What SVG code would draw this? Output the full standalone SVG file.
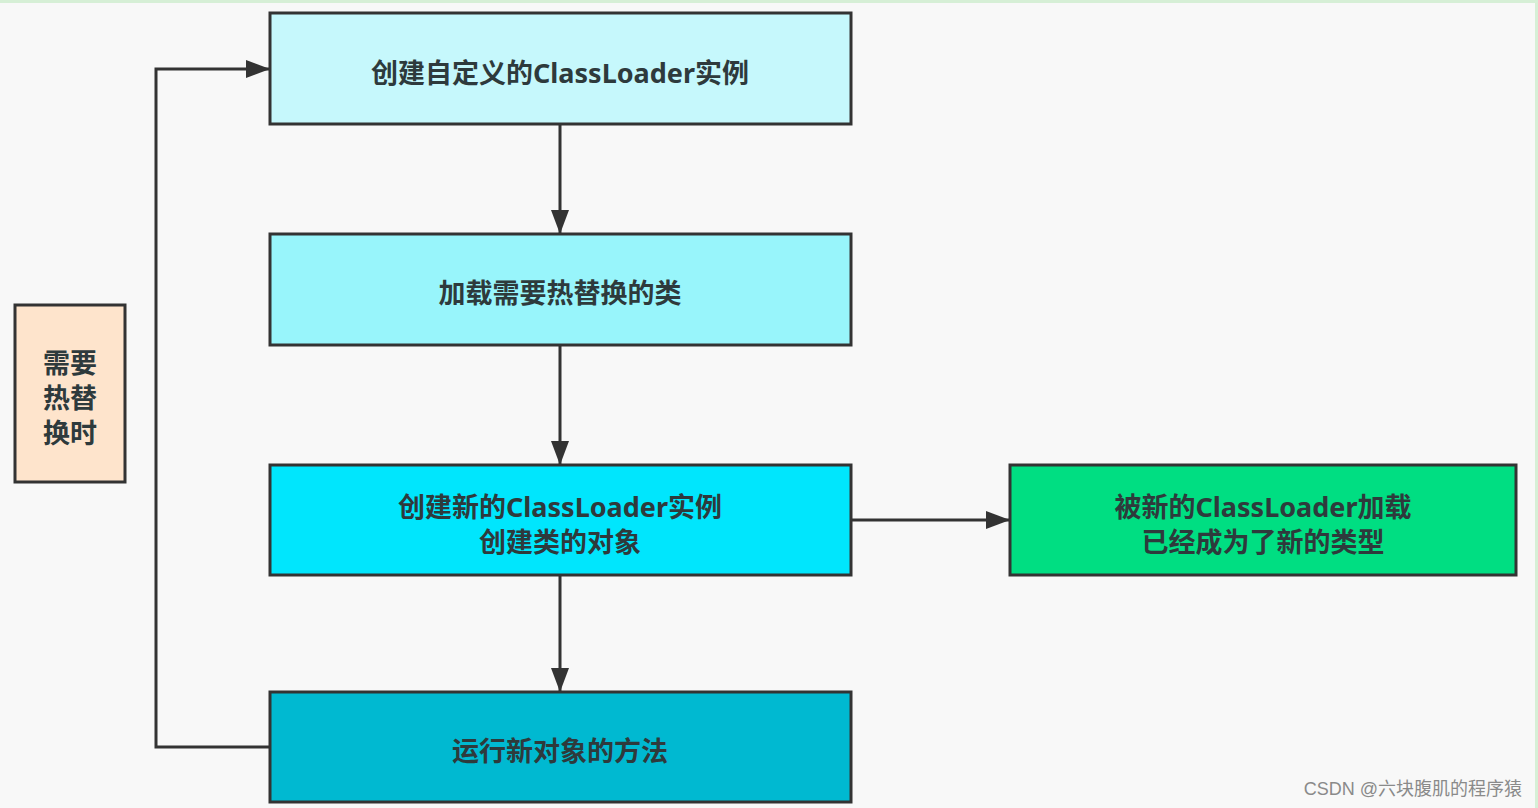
<svg xmlns="http://www.w3.org/2000/svg" width="1538" height="808" viewBox="0 0 1538 808">
<defs>
<marker id="arr" markerWidth="24" markerHeight="18" refX="23" refY="9" orient="auto" markerUnits="userSpaceOnUse">
<path d="M0,0 L24,9 L0,18 Z" fill="#333"/>
</marker>
<style>
.box{stroke:#333;stroke-width:3}
.t{font-family:"Noto Sans","Noto Sans CJK SC",sans-serif;font-weight:bold;font-size:27px;fill:#2e3a3c;text-anchor:middle;dominant-baseline:central}
.c{fill:none;stroke:#333;stroke-width:3}
</style>
</defs>
<rect width="1538" height="808" fill="#f8f8f8"/>
<rect width="1538" height="3" fill="#d6efd6"/>
<rect x="1535" y="0" width="3" height="808" fill="#d6efd6"/>
<g id="connectors">
<path class="c" d="M270,747 H156 V69 H269" marker-end="url(#arr)"/>
<path class="c" d="M560,124 V233" marker-end="url(#arr)"/>
<path class="c" d="M560,345 V464" marker-end="url(#arr)"/>
<path class="c" d="M560,575 V691" marker-end="url(#arr)"/>
<path class="c" d="M851,520 H1009" marker-end="url(#arr)"/>
</g>
<g id="n1">
<rect class="box" x="270" y="13" width="581" height="111" fill="#c6f8fc"/>
<text class="t" x="560" y="72">创建自定义的ClassLoader实例</text>
</g>
<g id="n2">
<rect class="box" x="270" y="234" width="581" height="111" fill="#98f5fb"/>
<text class="t" x="560" y="292">加载需要热替换的类</text>
</g>
<g id="n3">
<rect class="box" x="270" y="465" width="581" height="110" fill="#00e6fd"/>
<text class="t" x="560" y="506">创建新的ClassLoader实例</text>
<text class="t" x="560" y="541">创建类的对象</text>
</g>
<g id="n4">
<rect class="box" x="270" y="692" width="581" height="110" fill="#00b9d1"/>
<text class="t" x="560" y="750">运行新对象的方法</text>
</g>
<g id="n5">
<rect class="box" x="1010" y="465" width="506" height="110" fill="#00de82"/>
<text class="t" x="1263" y="506">被新的ClassLoader加载</text>
<text class="t" x="1263" y="541">已经成为了新的类型</text>
</g>
<g id="n6">
<rect class="box" x="15" y="305" width="110" height="177" fill="#fee4cc"/>
<text class="t" x="70" y="362">需要</text>
<text class="t" x="70" y="397">热替</text>
<text class="t" x="70" y="432">换时</text>
</g>
<text x="1522" y="789" font-family="'Liberation Sans','Noto Sans CJK SC',sans-serif" font-size="18" fill="#8a8a8a" text-anchor="end" dominant-baseline="central">CSDN @六块腹肌的程序猿</text>
</svg>
